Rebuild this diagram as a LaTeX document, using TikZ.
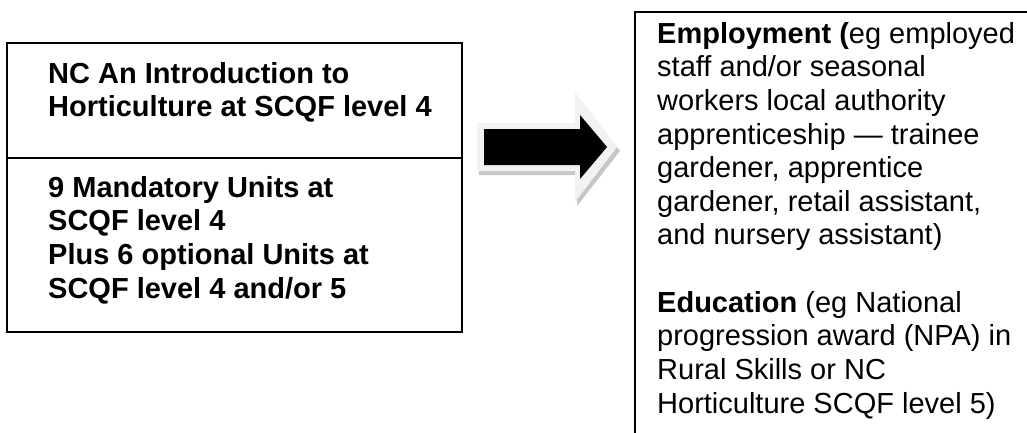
\documentclass[tikz,border=0pt]{standalone}
\usepackage{fontspec}
\setmainfont{Liberation Sans}
\usetikzlibrary{positioning}
\tikzset{cell/.style = {draw, line width = 1.6pt}}
\tikzset{txt/.style = {anchor = north west, inner sep = 0, align = left,
                       font = \fontsize{29}{33.6}\selectfont}}
\tikzset{bigarrow/.pic = {
    \fill [gray!45] (479, 127) -- (577, 127) -- (577, 96) -- (620, 151) -- (577, 206) -- (577, 175) -- (479, 175) -- cycle;
    \fill [gray!10] (477, 123) -- (575, 123) -- (575, 92) -- (617, 147) -- (575, 202) -- (575, 171) -- (477, 171) -- cycle;
    \fill [black] (484, 129) -- (580, 129) -- (580, 115) -- (607, 147) -- (580, 179) -- (580, 165) -- (484, 165) -- cycle;}}

\begin{document}
\begin{tikzpicture}[x = 1pt, y = -1pt]
    \useasboundingbox (0, 0) rectangle (1027, 432);

    % left box
    \draw [cell] (7, 43) rectangle (462, 332);
    \draw [cell] (7, 158) -- (462, 158);
    \node (title) at (48, 62) [txt] {\bfseries NC An Introduction to\\
                                     \bfseries Horticulture at SCQF level 4};
    \node (units) at (48, 176) [txt] {\bfseries 9 Mandatory Units at\\
                                      \bfseries SCQF level 4\\
                                      \bfseries Plus 6 optional Units at\\
                                      \bfseries SCQF level 4 and/or 5};

    \pic {bigarrow};

    % right box
    \begin{scope}
        \clip (0, 0) rectangle (1027, 432);
        \draw [cell] (1040, 12) -- (635, 12) -- (635, 445);
    \end{scope}
    \node (jobs) at (657, 22) [txt] {\textbf{Employment (}eg employed\\
                                     staff and/or seasonal\\
                                     workers local authority\\
                                     apprenticeship — trainee\\
                                     gardener, apprentice\\
                                     gardener, retail assistant,\\
                                     and nursery assistant)};
    \node (study) at (657, 291) [txt] {\textbf{Education} (eg National\\
                                       progression award (NPA) in\\
                                       Rural Skills or NC\\
                                       Horticulture SCQF level 5)};
  \end{tikzpicture}
\end{document}
